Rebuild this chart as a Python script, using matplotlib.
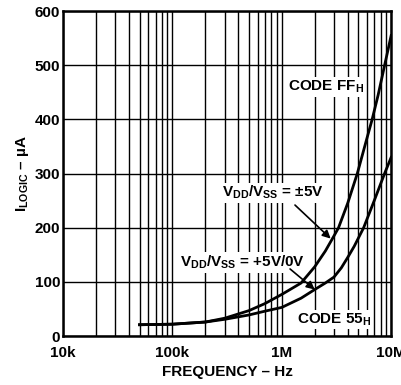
#!/usr/bin/env python3
"""Logic supply current vs frequency (two codes)."""
import matplotlib

matplotlib.use("Agg")
import matplotlib.pyplot as plt
from matplotlib.ticker import FixedLocator, NullFormatter

plt.rcParams["font.family"] = ["Liberation Sans", "DejaVu Sans"]
plt.rcParams["mathtext.fontset"] = "custom"
plt.rcParams["mathtext.rm"] = "Liberation Sans:bold"
plt.rcParams["mathtext.bf"] = "Liberation Sans:bold"
plt.rcParams["mathtext.it"] = "Liberation Sans:bold"

# curve readings (Hz, uA)
freq_ff = [5e4, 1e5, 2e5, 3e5, 5e5, 7e5, 1e6, 1.5e6, 2e6, 2.5e6, 3e6,
           3.3e6, 4e6, 4.9e6, 6e6, 6.7e6, 7.6e6, 8.5e6, 1e7]
ilogic_ff = [21, 22, 26, 33, 47, 60, 77, 98, 128, 157, 185,
             200, 245, 300, 365, 400, 445, 490, 555]
freq_55 = [5e4, 1e5, 2e5, 3e5, 5e5, 7e5, 1e6, 1.5e6, 2e6, 2.5e6, 3e6,
           3.5e6, 4e6, 4.6e6, 5.6e6, 7e6, 8.7e6, 1e7]
ilogic_55 = [21, 22, 26, 31, 39, 46, 53, 70, 86, 98, 109,
             126, 145, 166, 200, 250, 300, 330]

x_ticks = [1e4, 1e5, 1e6, 1e7]
x_labels = ["10k", "100k", "1M", "10M"]
y_ticks = [0, 100, 200, 300, 400, 500, 600]

fig = plt.figure(figsize=(4.02, 3.85), dpi=100)
ax = fig.add_axes([0.157, 0.127, 0.816, 0.844])

ax.plot(freq_ff, ilogic_ff, color="black", lw=2.0, zorder=3)
ax.plot(freq_55, ilogic_55, color="black", lw=2.0, zorder=3)

ax.set_xscale("log")
ax.set_xlim(1e4, 1e7)
ax.set_ylim(0, 600)
ax.set_xticks(x_ticks)
ax.set_xticklabels(x_labels)
ax.xaxis.set_minor_locator(FixedLocator(
    [m * d for d in (1e4, 1e5, 1e6) for m in range(2, 10)]))
ax.xaxis.set_minor_formatter(NullFormatter())
ax.set_yticks(y_ticks)
ax.grid(True, which="both", color="black", lw=1.0)
ax.set_axisbelow(True)
ax.tick_params(which="both", length=0, labelsize=11)
ax.tick_params(axis="x", pad=7)
ax.tick_params(axis="y", pad=2)
for lab in ax.get_xticklabels() + ax.get_yticklabels():
    lab.set_fontweight("bold")
for s in ax.spines.values():
    s.set_linewidth(1.8)

ax.set_xlabel("FREQUENCY – Hz", fontsize=11, fontweight="bold", labelpad=4)
ax.set_ylabel(r"I$_{\mathrm{LOGIC}}$ – µA", fontsize=11, fontweight="bold",
              labelpad=3)

box = dict(facecolor="white", edgecolor="none", pad=1.0)
ax.text(1.14e6, 460, r"CODE FF$_{\mathrm{H}}$", fontsize=11,
        fontweight="bold", ha="left", va="center", bbox=box, zorder=4)
ax.text(2.85e5, 265, r"V$_{\mathrm{DD}}$/V$_{\mathrm{SS}}$ = ±5V",
        fontsize=11, fontweight="bold", ha="left", va="center", bbox=box,
        zorder=4)
ax.text(1.18e5, 136, r"V$_{\mathrm{DD}}$/V$_{\mathrm{SS}}$ = +5V/0V",
        fontsize=11, fontweight="bold", ha="left", va="center", bbox=box,
        zorder=4)
ax.text(1.38e6, 31, r"CODE 55$_{\mathrm{H}}$", fontsize=11,
        fontweight="bold", ha="left", va="center", bbox=box, zorder=4)

arrow = dict(arrowstyle="-|>", color="black", lw=1.2, mutation_scale=12,
             shrinkA=0, shrinkB=0)
ax.annotate("", xy=(2.8e6, 180), xytext=(1.32e6, 242), arrowprops=arrow,
            zorder=5)
ax.annotate("", xy=(2.0e6, 86), xytext=(1.19e6, 124), arrowprops=arrow,
            zorder=5)

fig.savefig("out.png", dpi=100)
